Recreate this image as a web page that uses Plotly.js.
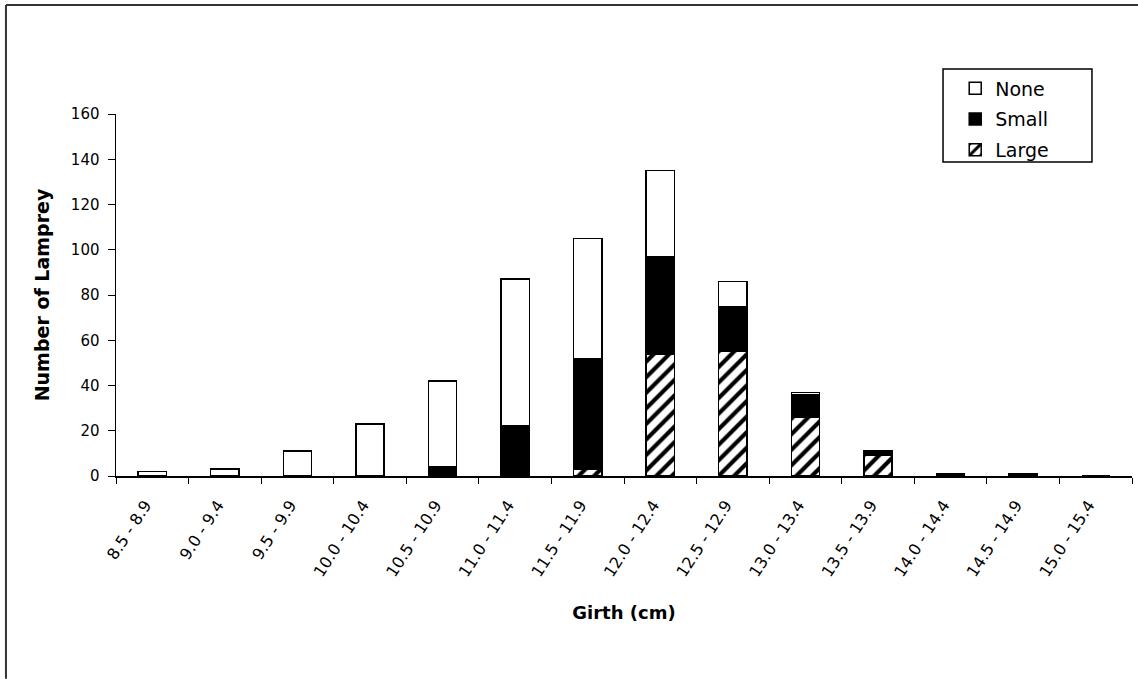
<!DOCTYPE html>
<html>
<head>
<meta charset="utf-8">
<script src="https://cdn.plot.ly/plotly-3.0.1.min.js"></script>
<style>
html,body{margin:0;padding:0;background:#fff;}
#chart{width:1138px;height:679px;}
</style>
</head>
<body>
<div id="chart"></div>
<script>
const categories = ["8.5 - 8.9","9.0 - 9.4","9.5 - 9.9","10.0 - 10.4","10.5 - 10.9","11.0 - 11.4","11.5 - 11.9","12.0 - 12.4","12.5 - 12.9","13.0 - 13.4","13.5 - 13.9","14.0 - 14.4","14.5 - 14.9","15.0 - 15.4"];
const largeVals = [0,0,0,0,0,0,3,54,55,26,9,0,0,0];
const smallVals = [0,0,0,0,4,22,49,43,20,10,2,1,1,0];
const noneVals  = [2,3,11,23,38,65,53,38,11,1,0,0,0,0];
const yTicks = [0,20,40,60,80,100,120,140,160];

const FONT = '"DejaVu Sans", Arial, sans-serif';
const lineStyle = {color:'#000', width:1.5};
const traces = [
  {type:'bar', name:'Large', legendgroup:'c', legendrank:3, x:categories, y:largeVals,
   marker:{color:'#fff', line:lineStyle, pattern:{shape:'/', fgcolor:'#000', bgcolor:'#fff', size:11, solidity:0.38}}},
  {type:'bar', name:'Small', legendgroup:'b', legendrank:2, x:categories, y:smallVals,
   marker:{color:'#000', line:lineStyle}},
  {type:'bar', name:'None', legendgroup:'a', legendrank:1, x:categories, y:noneVals,
   marker:{color:'#fff', line:lineStyle}}
];

const layout = {
  width:1138, height:679,
  paper_bgcolor:'#fff', plot_bgcolor:'#fff',
  margin:{l:116, r:6, t:114, b:203},
  barmode:'stack', bargap:0.61,
  showlegend:true,
  font:{family:FONT, color:'#000', size:15},
  legend:{x:0.826, y:1.123, xanchor:'left', yanchor:'top', traceorder:'grouped',
    borderwidth:0, bgcolor:'rgba(0,0,0,0)',
    font:{size:19, family:FONT}, itemwidth:30, tracegroupgap:3},
  xaxis:{type:'category', range:[-0.5,13.5], tickson:'boundaries', ticks:'outside', ticklen:6,
    tickcolor:'#000', tickwidth:1, showline:true, linecolor:'#000', linewidth:1.5,
    showgrid:false, zeroline:false, tickangle:-57, automargin:false,
    ticklabelstandoff:12, ticklabelshift:-7,
    tickfont:{size:16, family:FONT},
    title:{text:'Girth (cm)', font:{size:18, family:FONT, weight:'bold'}, standoff:27}},
  yaxis:{range:[0,160], tickvals:yTicks, ticktext:yTicks.map(String), ticks:'outside', ticklen:7,
    tickcolor:'#000', tickwidth:1, showline:true, linecolor:'#000', linewidth:1.5,
    showgrid:false, zeroline:false, automargin:false, tickfont:{size:15, family:FONT},
    ticklabelstandoff:5,
    title:{text:'Number of Lamprey', font:{size:19, family:FONT, weight:'bold'}, standoff:16}},
  shapes:[
    {type:'line', xref:'paper', yref:'paper', x0:-0.1083, x1:1.01, y0:1.301, y1:1.301, line:{color:'#333', width:2}},
    {type:'line', xref:'paper', yref:'paper', x0:-0.1083, x1:-0.1083, y0:1.301, y1:-0.56, line:{color:'#333', width:2}},
    {type:'rect', xref:'paper', yref:'paper', x0:0.814, x1:0.9606, y0:0.8674, y1:1.1243, line:{color:'#000', width:1.5}, fillcolor:'rgba(0,0,0,0)'}
  ]
};

Plotly.newPlot('chart', traces, layout, {displayModeBar:false, staticPlot:true});
</script>
</body>
</html>
